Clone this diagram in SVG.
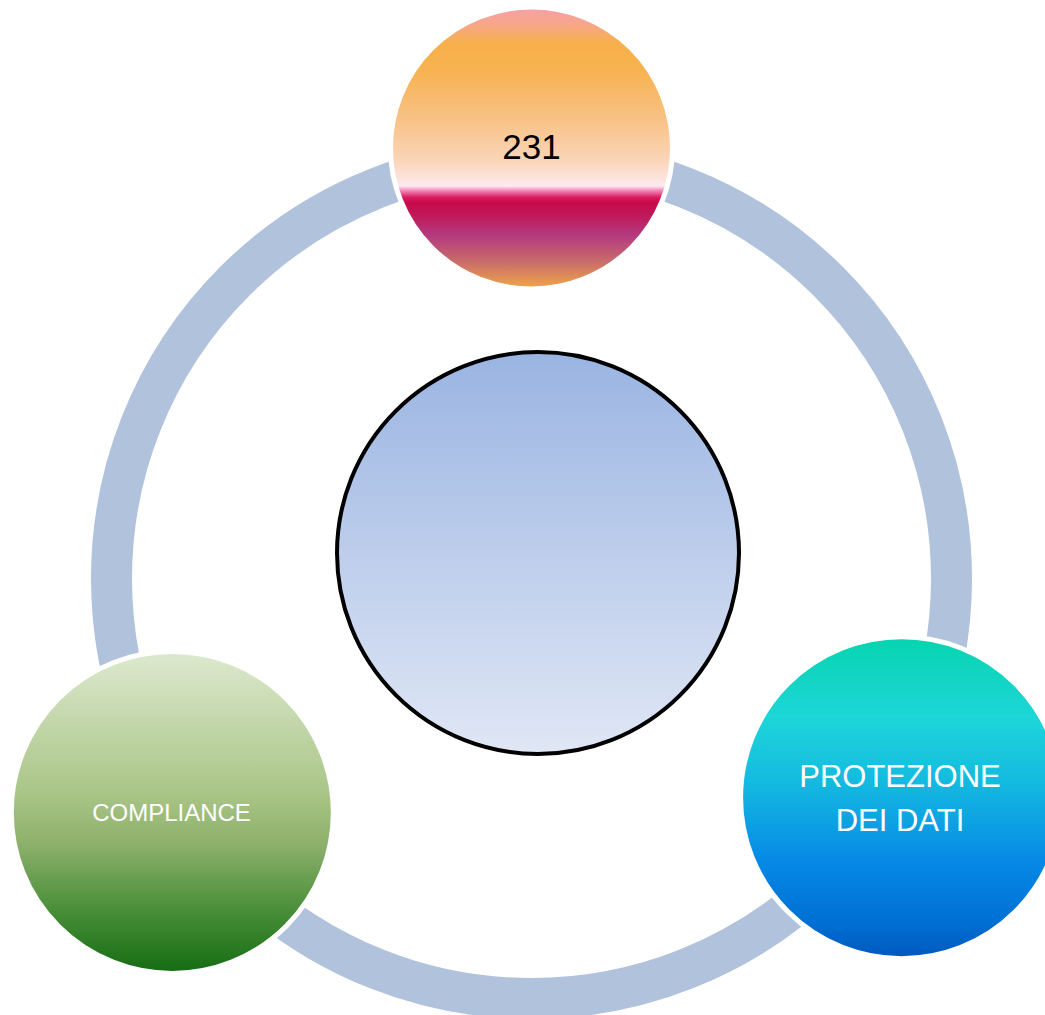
<svg xmlns="http://www.w3.org/2000/svg" width="1045" height="1015" viewBox="0 0 1045 1015">
  <defs>
    <linearGradient id="gTop" x1="0" y1="0" x2="0" y2="1">
      <stop offset="0" stop-color="#f99fa8"/>
      <stop offset="0.06" stop-color="#f6a68a"/>
      <stop offset="0.13" stop-color="#f7b04b"/>
      <stop offset="0.22" stop-color="#f7b24f"/>
      <stop offset="0.4" stop-color="#f8c286"/>
      <stop offset="0.55" stop-color="#fbd6bb"/>
      <stop offset="0.62" stop-color="#fde6e4"/>
      <stop offset="0.635" stop-color="#fde9f2"/>
      <stop offset="0.65" stop-color="#f58cbc"/>
      <stop offset="0.675" stop-color="#d81a60"/>
      <stop offset="0.695" stop-color="#c80a4a"/>
      <stop offset="0.74" stop-color="#c0195a"/>
      <stop offset="0.81" stop-color="#b43a80"/>
      <stop offset="0.9" stop-color="#c86a6a"/>
      <stop offset="1" stop-color="#f0a848"/>
    </linearGradient>
    <linearGradient id="gCenter" x1="0" y1="0" x2="0" y2="1">
      <stop offset="0" stop-color="#9ab4e2"/>
      <stop offset="1" stop-color="#e0e7f5"/>
    </linearGradient>
    <linearGradient id="gGreen" x1="0" y1="0" x2="0" y2="1">
      <stop offset="0" stop-color="#dde9cf"/>
      <stop offset="0.45" stop-color="#a8c485"/>
      <stop offset="0.6" stop-color="#8cb06a"/>
      <stop offset="0.8" stop-color="#4a8f3a"/>
      <stop offset="1" stop-color="#146c12"/>
    </linearGradient>
    <linearGradient id="gBlue" x1="0" y1="0" x2="0" y2="1">
      <stop offset="0" stop-color="#06d4ae"/>
      <stop offset="0.25" stop-color="#1dd6d8"/>
      <stop offset="0.45" stop-color="#14bae0"/>
      <stop offset="0.7" stop-color="#0689e6"/>
      <stop offset="0.88" stop-color="#0070d4"/>
      <stop offset="1" stop-color="#0058be"/>
    </linearGradient>
  </defs>
  <style>
    .ring { fill: none; stroke: #b1c2dd; stroke-width: 41; }
    .node { stroke: #ffffff; stroke-width: 5; }
    .lbl { font-family: "Liberation Sans", Arial, sans-serif; text-anchor: middle; }
    .white { fill: #ffffff; }
  </style>
  <rect width="1045" height="1015" fill="#ffffff"/>
  <g id="connectors">
    <circle class="ring" cx="531.5" cy="578.5" r="420"/>
  </g>
  <g id="node-center">
    <circle cx="538" cy="553" r="201" fill="url(#gCenter)" stroke="#000000" stroke-width="4"/>
  </g>
  <g id="node-231">
    <circle class="node" cx="531.5" cy="148" r="141" fill="url(#gTop)"/>
    <text class="lbl" x="531.5" y="159" font-size="35" fill="#000000">231</text>
  </g>
  <g id="node-compliance">
    <circle class="node" cx="172.3" cy="812.4" r="161" fill="url(#gGreen)"/>
    <text class="lbl white" x="171.5" y="821" font-size="24">COMPLIANCE</text>
  </g>
  <g id="node-protezione">
    <circle class="node" cx="901.6" cy="797.7" r="161" fill="url(#gBlue)"/>
    <text class="lbl white" x="900" y="787" font-size="31">PROTEZIONE</text>
    <text class="lbl white" x="900" y="831" font-size="31">DEI DATI</text>
  </g>
</svg>
